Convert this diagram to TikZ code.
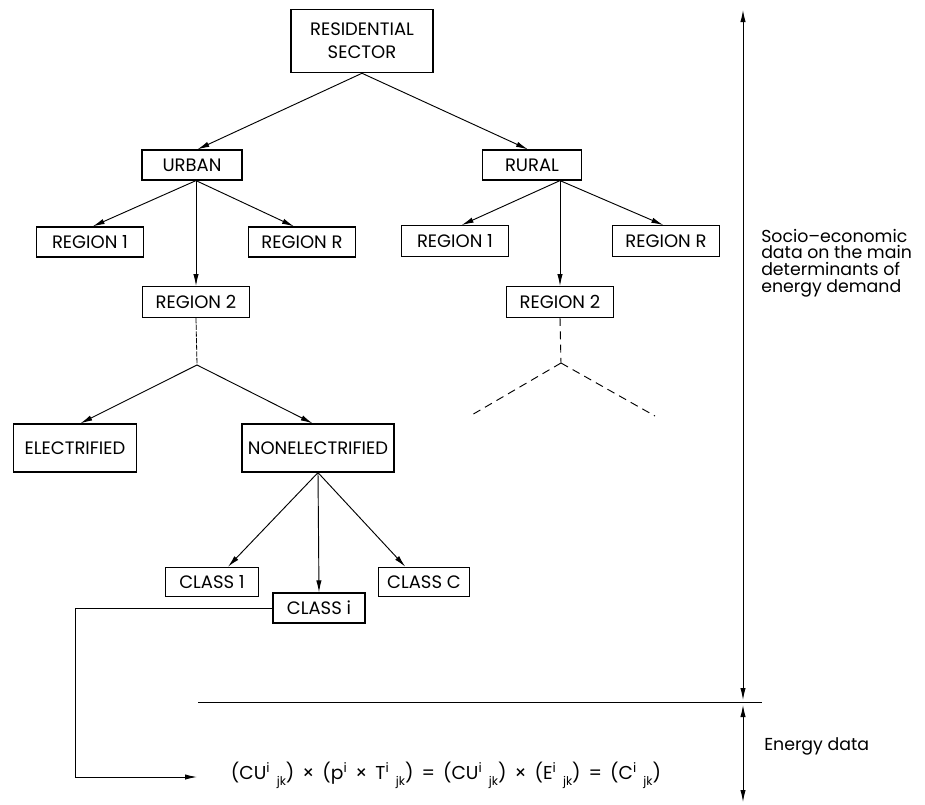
\documentclass[tikz,border=0pt]{standalone}
\usepackage{fontspec}
\setmainfont{Poppins}
\usetikzlibrary{arrows.meta,calc}
% superscript index followed by a lowered subscript index
\newcommand\idx[2]{\textsuperscript{#1}\kern0.35em\raisebox{-0.6ex}{\small #2}}
% operator with a little extra room on both sides
\newcommand\op[1]{\kern6pt#1\kern6pt}
\tikzset{
  box/.style={draw, line width=0.9pt, inner sep=0pt, align=center,
              font=\fontsize{13.5}{17}\selectfont},
  link/.style={line width=0.7pt, -{Latex[length=9pt,width=4pt]}},
  plain/.style={line width=0.7pt},
  finedash/.style={line width=0.6pt, dash pattern=on 4pt off 1pt},
  coarsedash/.style={line width=0.7pt, dash pattern=on 6pt off 4pt},
  gauge/.style={line width=0.7pt, {Latex[length=9pt,width=4pt]}-{Latex[length=9pt,width=4pt]}},
  note/.style={align=left, anchor=west, inner sep=0pt, font=\fontsize{13}{12.5}\selectfont}
}
\begin{document}
\begin{tikzpicture}[x=0.75pt,y=-0.75pt]
\useasboundingbox (0,0) rectangle (925,804);

% tree of boxes
\node[box, minimum width=106.5pt, minimum height=47.5pt] (res) at (362,41) {RESIDENTIAL\\SECTOR};
\node[box, minimum width=75pt, minimum height=22.5pt] (urban) at (192,165) {URBAN};
\node[box, minimum width=74pt, minimum height=22.5pt] (rural) at (532,165) {RURAL};
\node[box, minimum width=80pt, minimum height=22.5pt] (ur1) at (90,242) {REGION 1};
\node[box, minimum width=80pt, minimum height=22.5pt] (urR) at (302,242) {REGION R};
\node[box, minimum width=80pt, minimum height=23pt] (ur2) at (196,302) {REGION 2};
\node[box, minimum width=80pt, minimum height=23pt] (rr1) at (455,241) {REGION 1};
\node[box, minimum width=80pt, minimum height=23pt] (rrR) at (666,241) {REGION R};
\node[box, minimum width=80pt, minimum height=23pt] (rr2) at (560,302) {REGION 2};
\node[box, minimum width=92pt, minimum height=36pt] (elec) at (75,448) {ELECTRIFIED};
\node[box, minimum width=114pt, minimum height=36pt] (nonel) at (318,448) {NONELECTRIFIED};
\node[box, minimum width=70pt, minimum height=22pt] (c1) at (212,582) {CLASS 1};
\node[box, minimum width=68pt, minimum height=22pt] (cC) at (424,582) {CLASS C};
\node[box, minimum width=69pt, minimum height=22.5pt] (ci) at (319,608) {CLASS i};

% branching points
\coordinate (uo) at (urban.south -| ur2.north);
\coordinate (ro) at (rural.south -| rr2.north);
\coordinate (uj) at (197,365);
\coordinate (rj) at (561,363);
\coordinate (rl) at (470,416);
\coordinate (rr) at (655,416);

\draw[link] (res.south) -- ([xshift=4pt]urban.north);
\draw[link] (res.south) -- ([xshift=-3pt]rural.north);

\draw[link] (uo) -- ([xshift=2pt]ur1.north);
\draw[link] (uo) -- ([xshift=-6pt]urR.north);
\draw[link] (uo) -- (ur2.north);

\draw[link] (ro) -- ([xshift=5pt]rr1.north);
\draw[link] (ro) -- ([xshift=-2pt]rrR.north);
\draw[link] (ro) -- (rr2.north);

\draw[finedash] (ur2.south) -- (uj);
\draw[link] (uj) -- ([xshift=4pt]elec.north);
\draw[link] (uj) -- ([xshift=-4pt]nonel.north);

\draw[coarsedash] (rr2.south) -- (rj);
\draw[coarsedash] (rj) -- (rl);
\draw[coarsedash] (rj) -- (rr);

\draw[link] (nonel.south) -- ([xshift=12pt]c1.north);
\draw[link] (nonel.south) -- ([xshift=-14pt]cC.north);
\draw[link] (nonel.south) -- (ci.north);

% energy balance
\node[inner sep=0pt, font=\fontsize{14}{16}\selectfont] (formula) at (446,775)
  {(CU\idx{i}{jk})\op{×}(p\textsuperscript{i}\op{×}T\idx{i}{jk})\op{=}(CU\idx{i}{jk})\op{×}(E\idx{i}{jk})\op{=}(C\idx{i}{jk})};
\coordinate (fb) at (75,777);
\coordinate (fin) at (197,777);
\draw[link] (ci.west) -| (fb) -- (fin);

% divider and data scale
\coordinate (dl) at (198,702);
\coordinate (dr) at (762,702);
\draw[plain] (dl) -- (dr);
\coordinate (vt) at (743,10);
\coordinate (vm1) at (743,700);
\coordinate (vm2) at (743,705);
\coordinate (vb) at (743,802);
\draw[gauge] (vt) -- (vm1);
\draw[gauge] (vm2) -- (vb);

\node[note] (socio) at (761,263) {Socio–economic\\data on the main\\determinants of\\energy demand};
\node[note] (energy) at (764,746) {Energy data};
\end{tikzpicture}
\end{document}
